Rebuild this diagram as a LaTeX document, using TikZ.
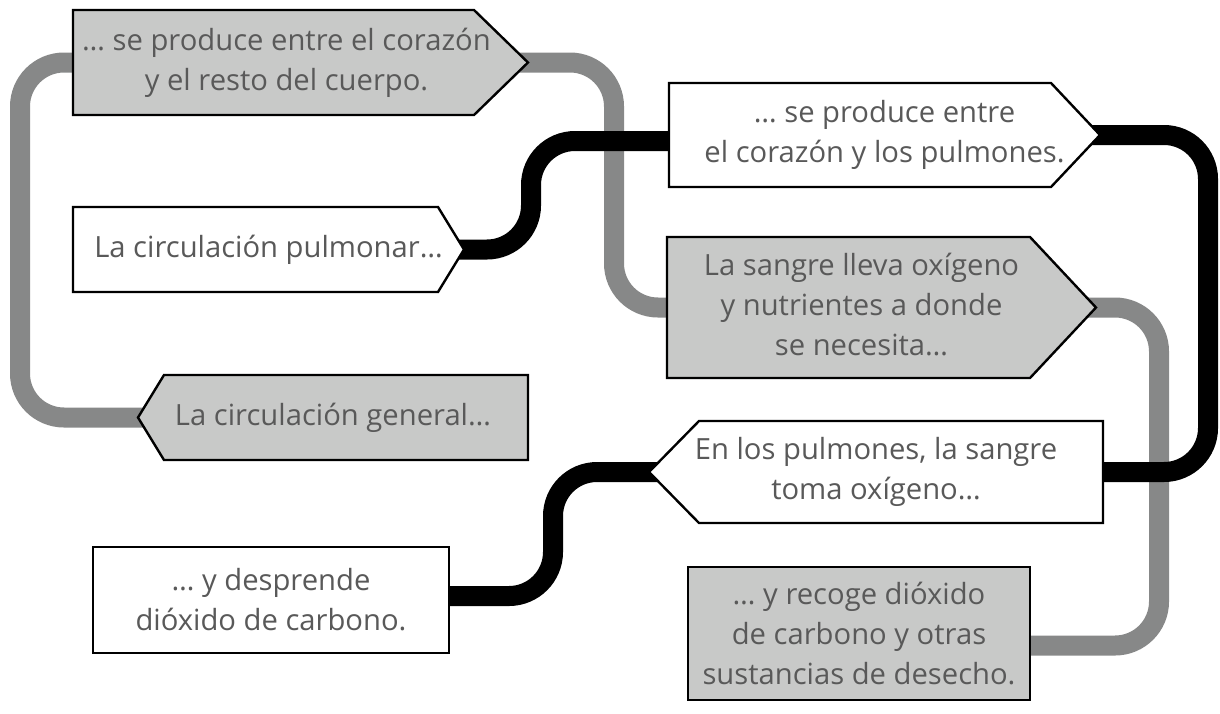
\documentclass[tikz,border=0pt]{standalone}
\usepackage{fontspec}
\setmainfont{Open Sans}
\usetikzlibrary{calc}
\definecolor{boxgray}{HTML}{C8C9C8}
\definecolor{linegray}{HTML}{878888}
\definecolor{txtgray}{HTML}{595959}
\pgfdeclarelayer{lines}
\pgfdeclarelayer{shapes}
\pgfsetlayers{lines,shapes,main}
\newcommand\rpshape[3]{%
  \path[boxline,fill=#3] (#1.north west) -- ($(#1.north east)+(-#2,0)$) -- (#1.east) -- ($(#1.south east)+(-#2,0)$) -- (#1.south west) -- cycle;}
\newcommand\lpshape[3]{%
  \path[boxline,fill=#3] (#1.north east) -- ($(#1.north west)+(#2,0)$) -- (#1.west) -- ($(#1.south west)+(#2,0)$) -- (#1.south east) -- cycle;}
\newcommand\shiftedlines[2]{\begin{tabular}{@{}c@{}}#2\end{tabular}\hspace*{#1}}
\begin{document}
\begin{tikzpicture}[x=0.5pt,y=-0.5pt,
  txt/.style={inner sep=0pt,outer sep=0pt,align=center,text=txtgray,font=\fontsize{14.6}{20}\selectfont},
  boxline/.style={draw=black,line width=1.2pt,line join=miter},
  conn/.style={line width=10pt,rounded corners=22pt}]
\useasboundingbox (0,0) rectangle (1220,713);
% nodes
\node[txt,minimum width=227.5pt,minimum height=52.5pt] (A) at (300.5,62.5) {\shiftedlines{14pt}{… se produce entre el corazón\\y el resto del cuerpo.}};
\node[txt,minimum width=215.5pt,minimum height=52pt] (B) at (884.5,135) {… se produce entre\\el corazón y los pulmones.};
\node[txt,minimum width=195.5pt,minimum height=42.5pt] (C) at (268.5,249.5) {La circulación pulmonar…};
\node[txt,minimum width=195pt,minimum height=42.5pt] (D) at (333,417.5) {La circulación general…};
\node[txt,minimum width=214.5pt,minimum height=70.5pt] (E) at (881.5,307.5) {\shiftedlines{20pt}{La sangre lleva oxígeno\\y nutrientes a donde\\se necesita…}};
\node[txt,minimum width=227pt,minimum height=51pt] (F) at (876,472) {En los pulmones, la sangre\\toma oxígeno…};
\node[txt,minimum width=178pt,minimum height=53pt] (G) at (271,600) {… y desprende\\dióxido de carbono.};
\node[txt,minimum width=171pt,minimum height=66.5pt] (H) at (859,633.5) {… y recoge dióxido\\de carbono y otras\\sustancias de desecho.};
% helper coordinates
\coordinate (gL) at (20,0);
\coordinate (gM) at (614,0);
\coordinate (gR) at (1159,0);
\coordinate (bM) at (531,0);
\coordinate (bR) at (1208,0);
\coordinate (bL) at (553,0);
\begin{pgfonlayer}{lines}
\draw[conn,linegray] (D.center) -- (D.center -| gL) -- (A.center -| gL) -- (A.center);
\draw[conn,linegray] (A.center) -- (A.center -| gM) -- (E.center -| gM) -- (E.center);
\draw[conn,linegray] (E.center) -- (E.center -| gR) -- ([yshift=-6pt]H.center -| gR) -- ([yshift=-6pt]H.center);
\draw[conn,black] (C.center) -- (C.center -| bM) -- ([yshift=-3pt]B.center -| bM) -- ([yshift=-3pt]B.center);
\draw[conn,black] (B.center) -- (B.center -| bR) -- (F.center -| bR) -- (F.center);
\draw[conn,black] (F.center) -- (F.center -| bL) -- ([yshift=2pt]G.center -| bL) -- ([yshift=2pt]G.center);
\end{pgfonlayer}
\begin{pgfonlayer}{shapes}
\rpshape{A}{54}{boxgray}
\rpshape{B}{49}{white}
\rpshape{C}{26}{white}
\lpshape{D}{26}{boxgray}
\rpshape{E}{66}{boxgray}
\lpshape{F}{50}{white}
\path[boxline,fill=white] (G.north west) rectangle (G.south east);
\path[boxline,fill=boxgray] (H.north west) rectangle (H.south east);
\end{pgfonlayer}
\end{tikzpicture}
\end{document}
